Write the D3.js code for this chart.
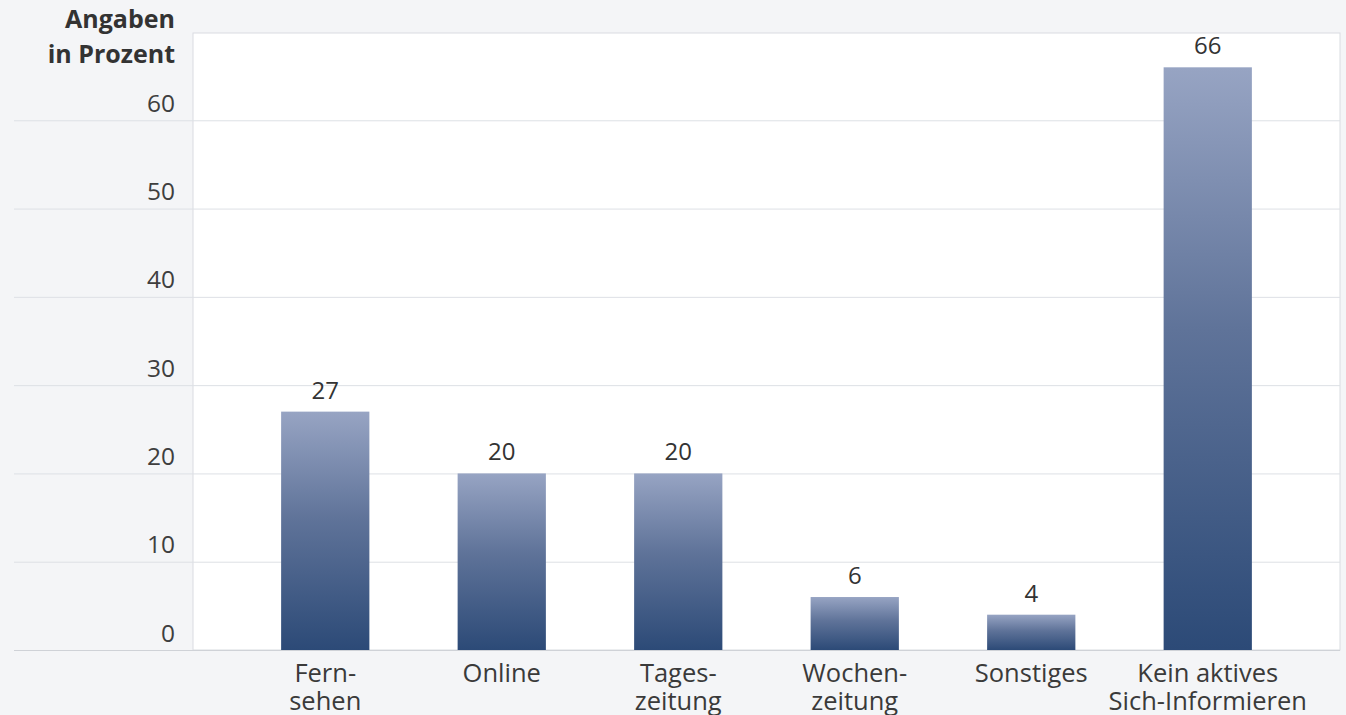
<!DOCTYPE html>
<html lang="de">
<head>
<meta charset="utf-8">
<script src="https://cdn.jsdelivr.net/npm/d3@7"></script>
<style>
  html, body { margin: 0; padding: 0; background: #f4f5f7; }
  svg { display: block; font-family: "Open Sans", "DejaVu Sans", sans-serif; }
</style>
</head>
<body>
<svg id="chart" width="1346" height="715"></svg>
<script>
// Kategorien (Zeilenumbrüche als Array)
const categories = [
  ["Fern-", "sehen"],
  ["Online"],
  ["Tages-", "zeitung"],
  ["Wochen-", "zeitung"],
  ["Sonstiges"],
  ["Kein aktives", "Sich-Informieren"]
];
const values = [27, 20, 20, 6, 4, 66];
const yTicks = [0, 10, 20, 30, 40, 50, 60];
const unitLabel = ["Angaben", "in Prozent"];

const svg = d3.select("#chart");
const plot = { left: 193, right: 1340, top: 33, bottom: 650 };

const y = d3.scaleLinear().domain([0, 70]).range([plot.bottom, plot.top - 1]);
const x = d3.scaleBand()
  .domain(d3.range(categories.length))
  .range([237, 1296])
  .paddingInner(0.5)
  .paddingOuter(0.25);

// Balkenverlauf
const defs = svg.append("defs");
const grad = defs.append("linearGradient")
  .attr("id", "barGrad").attr("x1", 0).attr("y1", 0).attr("x2", 0).attr("y2", 1);
grad.append("stop").attr("offset", "0%").attr("stop-color", "#97a4c3");
grad.append("stop").attr("offset", "45%").attr("stop-color", "#5f7399");
grad.append("stop").attr("offset", "100%").attr("stop-color", "#2c4a77");

// Weiße Plotfläche
svg.append("rect")
  .attr("x", plot.left).attr("y", plot.top)
  .attr("width", plot.right - plot.left).attr("height", plot.bottom - plot.top)
  .attr("fill", "#ffffff")
  .attr("stroke", "#d9dce1").attr("stroke-width", 1);

// Gitterlinien und Achsenbeschriftung über d3.axisLeft
const yAxis = d3.axisLeft(y)
  .tickValues(yTicks)
  .tickSize(plot.right - 14)
  .tickPadding(0)
  .tickFormat(d3.format("d"));

const gy = svg.append("g")
  .attr("transform", `translate(${plot.right},0)`)
  .call(yAxis);
gy.select(".domain").remove();
gy.selectAll(".tick line")
  .attr("stroke", d => d === 0 ? "#cfd2d7" : "#dde0e5")
  .attr("stroke-width", 1);
gy.selectAll(".tick text")
  .attr("x", 175 - plot.right)
  .attr("dy", "-9")
  .attr("text-anchor", "end")
  .attr("fill", "#3e3e3e")
  .style("font-size", "24.5px")
  .style("font-family", "'Open Sans', sans-serif");

// Balken
svg.append("g").selectAll("rect")
  .data(values)
  .join("rect")
  .attr("x", (d, i) => x(i))
  .attr("y", d => y(d))
  .attr("width", x.bandwidth())
  .attr("height", d => y(0) - y(d))
  .attr("fill", "url(#barGrad)");

// Wertebeschriftung
svg.append("g").selectAll("text")
  .data(values)
  .join("text")
  .attr("x", (d, i) => x(i) + x.bandwidth() / 2)
  .attr("y", d => y(d) - 13)
  .attr("text-anchor", "middle")
  .attr("fill", "#333333")
  .style("font-size", "24px")
  .text(d => d);

// Kategorienbeschriftung
const xl = svg.append("g").selectAll("text")
  .data(categories)
  .join("text")
  .attr("text-anchor", "middle")
  .attr("fill", "#3a3a3a")
  .style("font-size", "25.5px");
xl.each(function(lines, i) {
  d3.select(this).selectAll("tspan")
    .data(lines)
    .join("tspan")
    .attr("x", x(i) + x.bandwidth() / 2)
    .attr("y", (d, j) => 682 + j * 27.5)
    .text(d => d);
});

// Einheit
svg.append("text")
  .attr("text-anchor", "end")
  .attr("fill", "#333333")
  .style("font-size", "25px")
  .style("font-weight", "bold")
  .selectAll("tspan")
  .data(unitLabel)
  .join("tspan")
  .attr("x", 175)
  .attr("y", (d, i) => 28 + i * 35)
  .text(d => d);
</script>
</body>
</html>
